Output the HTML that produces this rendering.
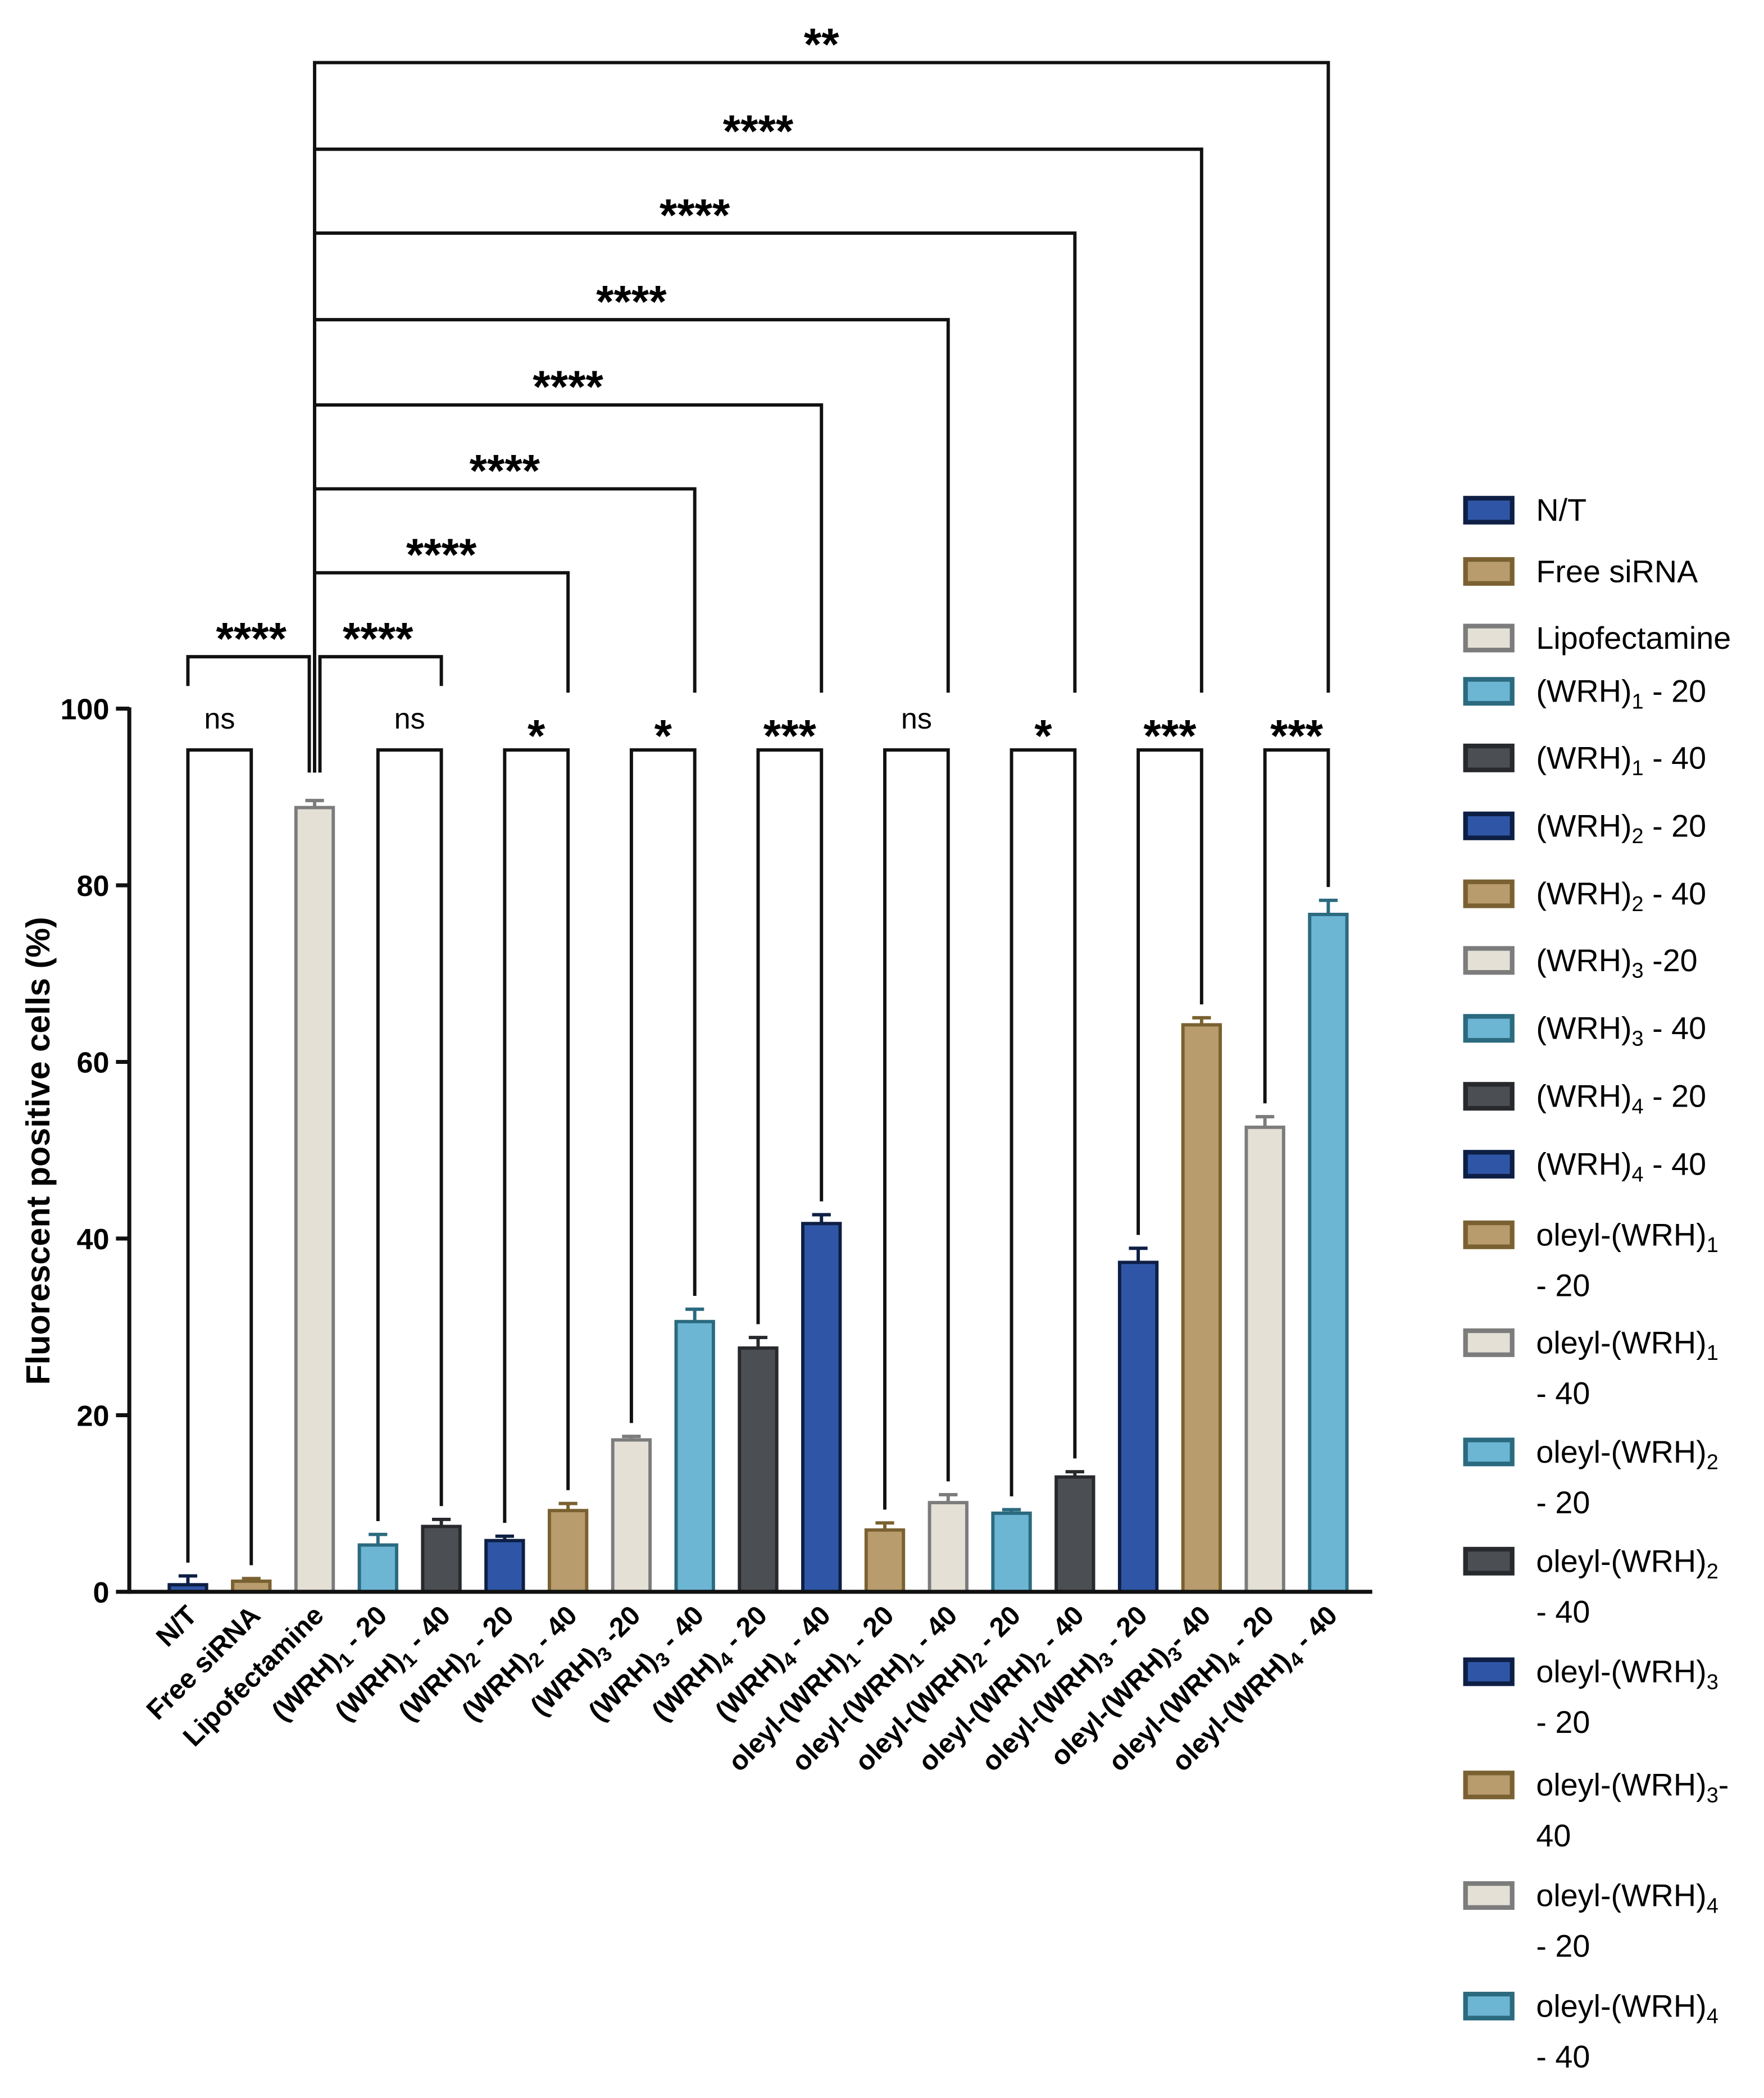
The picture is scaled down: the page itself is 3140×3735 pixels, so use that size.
<!DOCTYPE html>
<html><head><meta charset="utf-8"><style>
html,body{margin:0;padding:0;background:#fff}
svg{display:block}
text{font-family:"Liberation Sans",Arial,sans-serif}
</style></head>
<body>
<svg id="chart" width="3140" height="3735" viewBox="0 0 1324 1575" xmlns="http://www.w3.org/2000/svg">
<rect x="0" y="0" width="1324" height="1575" fill="#fff"/>
<text transform="translate(37,864) rotate(-90)" text-anchor="middle" font-size="25" font-weight="bold">Fluorescent positive cells (%)</text>
<g id="plot"></g>
<g id="legend"></g>
</svg>
<script>
const categories=["N/T","Free siRNA","Lipofectamine","(WRH)1 - 20","(WRH)1 - 40","(WRH)2 - 20","(WRH)2 - 40","(WRH)3 -20","(WRH)3 - 40","(WRH)4 - 20","(WRH)4 - 40","oleyl-(WRH)1 - 20","oleyl-(WRH)1 - 40","oleyl-(WRH)2 - 20","oleyl-(WRH)2 - 40","oleyl-(WRH)3 - 20","oleyl-(WRH)3- 40","oleyl-(WRH)4 - 20","oleyl-(WRH)4 - 40"];
const values=[0.8,1.2,88.8,5.3,7.4,5.8,9.2,17.2,30.6,27.6,41.7,7.0,10.1,8.9,13.0,37.3,64.2,52.6,76.7];
const errors=[1.0,0.3,0.8,1.2,0.8,0.5,0.8,0.4,1.4,1.2,1.0,0.8,0.9,0.4,0.6,1.6,0.8,1.2,1.6];
const yTicks=[0,20,40,60,80,100];
const pairLow=[[0,1,"ns"],[3,4,"ns"],[5,6,"*"],[7,8,"*"],[9,10,"***"],[11,12,"ns"],[13,14,"*"],[15,16,"***"],[17,18,"***"]];
const pairHigh=[[0,2,"****"],[2,4,"****"],[2,6,"****"],[2,8,"****"],[2,10,"****"],[2,12,"****"],[2,14,"****"],[2,16,"****"],[2,18,"**"]];
const legendLabels=[["N/T"],["Free siRNA"],["Lipofectamine"],["(WRH)1 - 20"],["(WRH)1 - 40"],["(WRH)2 - 20"],["(WRH)2 - 40"],["(WRH)3 -20"],["(WRH)3 - 40"],["(WRH)4 - 20"],["(WRH)4 - 40"],["oleyl-(WRH)1","- 20"],["oleyl-(WRH)1","- 40"],["oleyl-(WRH)2","- 20"],["oleyl-(WRH)2","- 40"],["oleyl-(WRH)3","- 20"],["oleyl-(WRH)3-","40"],["oleyl-(WRH)4","- 20"],["oleyl-(WRH)4","- 40"]];

const NS="http://www.w3.org/2000/svg";
const fills=["#2f56a6","#b99c6d","#e4e0d6","#6cb6d4","#4b4e53"];
const strokes=["#0e1f45","#7a6131","#7c7c7c","#2b6a7f","#27292d"];
const X0=97,X1=1030,Y0=1195,YT=532;
function yS(v){return Y0-(Y0-YT)*v/100;}
function xS(i){return 141+i*(997-141)/18;}
function mk(tag,attrs,parent){const e=document.createElementNS(NS,tag);for(const k in attrs)e.setAttribute(k,attrs[k]);parent.appendChild(e);return e;}
function richText(el,s,subSize){
  const m=s.match(/^(.*\(WRH\))(\d)(.*)$/);
  if(!m){el.textContent=s;return;}
  const a=document.createElementNS(NS,"tspan");a.textContent=m[1];el.appendChild(a);
  const b=document.createElementNS(NS,"tspan");b.textContent=m[2];b.setAttribute("font-size",subSize);b.setAttribute("dy","5");el.appendChild(b);
  const c=document.createElementNS(NS,"tspan");c.textContent=m[3];c.setAttribute("dy","-5");el.appendChild(c);
}
const plot=document.getElementById("plot");
let ax=mk("line",{x1:X0,y1:YT-1,x2:X0,y2:Y0+1.5,stroke:"#111","stroke-width":3},plot);


yTicks.forEach(t=>{
  const tk=mk("line",{x1:87,y1:yS(t),x2:X0,y2:yS(t),stroke:"#111","stroke-width":3},plot);
  
  
  const tl=mk("text",{x:82,y:yS(t)+8,"text-anchor":"end","font-size":22,"font-weight":"bold"},plot);
  tl.textContent=t;
  
  
});
categories.forEach((c,i)=>{
  const x=xS(i),w=30,v=values[i],e=errors[i];
  const ci=i%5;
  const b=mk("rect",{x:x-w/2+1,y:yS(v),width:w-2,height:Y0-yS(v),fill:fills[ci],stroke:strokes[ci],"stroke-width":2.5},plot);
  
  
  const eb=mk("path",{d:`M${x},${yS(v)} V${yS(v+e)} M${x-7},${yS(v+e)} H${x+7}`,stroke:strokes[ci],"stroke-width":2.5,fill:"none"},plot);
  
  
  const lb=mk("text",{transform:`translate(${x+8},${Y0+19}) rotate(-45)`,"text-anchor":"end","font-size":20.5,"font-weight":"bold"},plot);
  richText(lb,c,15);
  
  
});
let xa=mk("line",{x1:X0-1.5,y1:Y0,x2:X1,y2:Y0,stroke:"#111","stroke-width":3},plot);


pairLow.forEach(p=>{
  const a=xS(p[0]),b=xS(p[1]),y=563;
  const ya=yS(values[p[0]]+errors[p[0]])-10,yb=yS(values[p[1]]+errors[p[1]])-10;
  const br=mk("path",{d:`M${a},${ya} V${y} H${b} V${yb}`,stroke:"#111","stroke-width":2.5,fill:"none"},plot);
  
  
  const t=mk("text",{x:(a+b)/2,y:p[2]==="ns"?547:564,"text-anchor":"middle","font-size":p[2]==="ns"?22:34,"font-weight":p[2]==="ns"?"normal":"bold"},plot);
  t.textContent=p[2];
  
  
});
const hy=[493,493,430,367,304,240,175,112,47];
pairHigh.forEach((p,k)=>{
  const a=xS(p[0]),b=xS(p[1]),y=hy[k];
  let d;
  if(k===0)d=`M${a},515 V${y} H${b-4} V580`;
  else if(k===1)d=`M${a+4},580 V${y} H${b} V515`;
  else d=`M${a},580 V${y} H${b} V520`;
  const br=mk("path",{d:d,stroke:"#111","stroke-width":2.5,fill:"none"},plot);
  
  
  const t=mk("text",{x:(a+b)/2,y:y-2,"text-anchor":"middle","font-size":34,"font-weight":"bold"},plot);
  t.textContent=p[2];
  
  
});
const legend=document.getElementById("legend");
const legY=[383,429,479,519,569,620,671,721,772,823,874,927,1008,1090,1172,1255,1340,1423,1506];
legendLabels.forEach((l,i)=>{
  const y=legY[i],ci=i%5;
  const sw=mk("rect",{x:1100,y:y-9,width:35,height:18,fill:fills[ci],stroke:strokes[ci],"stroke-width":3.5},legend);
  
  
  const t=mk("text",{x:1153,y:y+8,"font-size":23.5},legend);
  richText(t,l[0],16);
  
  
  if(l[1]){
    const t2=mk("text",{x:1153,y:y+46,"font-size":23.5},legend);
    t2.textContent=l[1];
    
    
  }
});
</script>
</body></html>
